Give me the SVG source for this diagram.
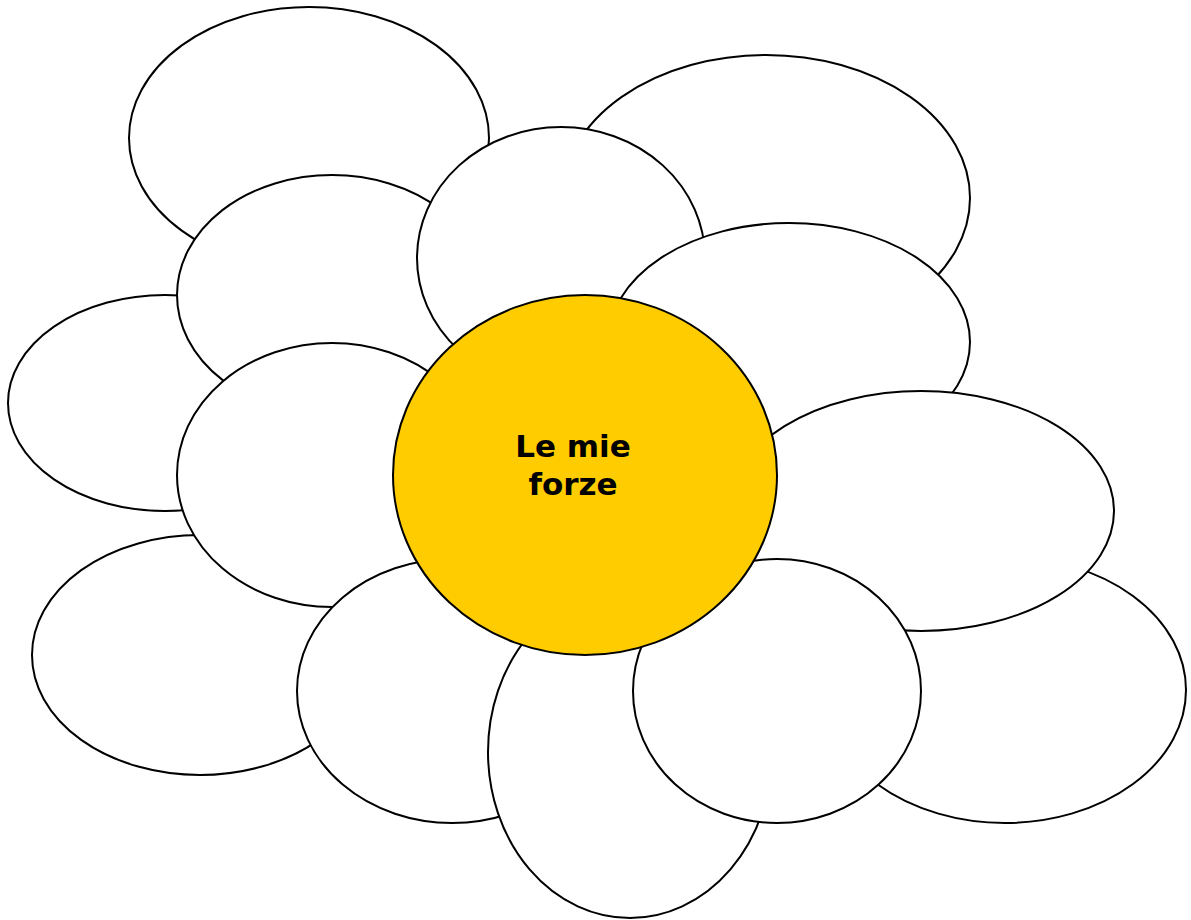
<svg xmlns="http://www.w3.org/2000/svg" width="1191" height="920" viewBox="0 0 1191 920">
<style>
.p{fill:#fff;stroke:#000;stroke-width:2}
.c{fill:#FFCC00;stroke:#000;stroke-width:2}
.t{font-family:"DejaVu Sans",Verdana,sans-serif;font-weight:bold;font-size:31px;fill:#000;text-anchor:middle}
</style>
<rect width="1191" height="920" fill="#fff"/>
<g id="petal1"><ellipse class="p" cx="309" cy="138" rx="180" ry="131"/></g>
<g id="petal2"><ellipse class="p" cx="766" cy="198" rx="204" ry="143"/></g>
<g id="petal3"><ellipse class="p" cx="165" cy="403" rx="157" ry="108"/></g>
<g id="petal4"><ellipse class="p" cx="332" cy="295" rx="155" ry="120"/></g>
<g id="petal5"><ellipse class="p" cx="561" cy="258" rx="144" ry="131"/></g>
<g id="petal6"><ellipse class="p" cx="789" cy="342" rx="181" ry="119"/></g>
<g id="petal7"><ellipse class="p" cx="200" cy="655" rx="168" ry="120"/></g>
<g id="petal8"><ellipse class="p" cx="332" cy="475" rx="155" ry="132"/></g>
<g id="petal9"><ellipse class="p" cx="1005" cy="690" rx="181" ry="133"/></g>
<g id="petal10"><ellipse class="p" cx="921" cy="511" rx="193" ry="120"/></g>
<g id="petal11"><ellipse class="p" cx="452" cy="691" rx="155" ry="132"/></g>
<g id="petal12"><ellipse class="p" cx="630" cy="752" rx="142" ry="166"/></g>
<g id="petal13"><ellipse class="p" cx="777" cy="691" rx="144" ry="132"/></g>
<g id="center"><ellipse class="c" cx="585" cy="475" rx="192" ry="180"/>
<text class="t" x="573" y="457">Le mie</text>
<text class="t" x="573" y="495">forze</text></g>
<g id="connectors"/>
</svg>
